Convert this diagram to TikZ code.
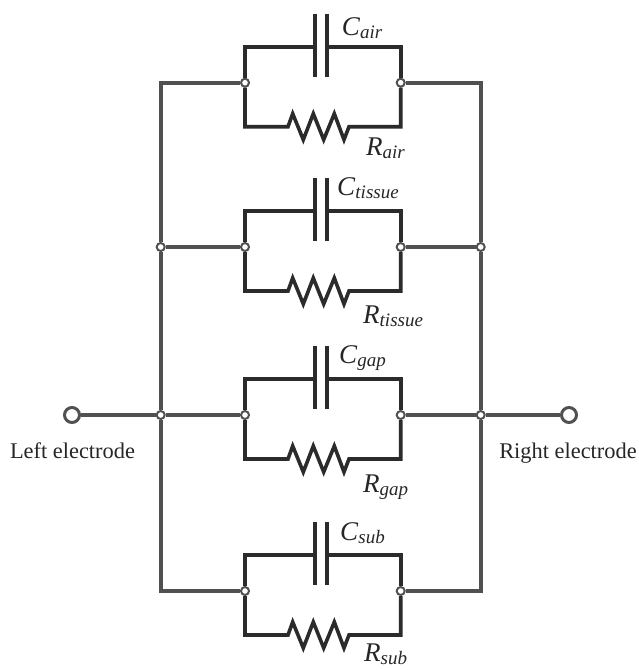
\documentclass[tikz,border=0pt]{standalone}
\usepackage{fontspec}
\setmainfont{Liberation Serif}
\definecolor{wire}{HTML}{2B2B2B}
\definecolor{bus}{HTML}{505050}
\newcommand{\elabel}[2]{\fontsize{27}{27}\selectfont\textit{#1}\raisebox{-3.5pt}{\fontsize{19}{19}\selectfont\textit{#2}}}
\tikzset{
    branchwire/.style={draw=wire, line width=3.6pt, line join=miter},
    buswire/.style={draw=bus, line width=3.6pt, line join=miter},
    junction/.style={circle, draw=bus, fill=white, line width=2pt, minimum size=8pt, inner sep=0pt},
    electrode/.style={circle, draw=bus, fill=white, line width=3pt, minimum size=15pt, inner sep=0pt},
    elabeltext/.style={anchor=base west, inner sep=0pt, text=black!85},
    sidetext/.style={anchor=base, inner sep=0pt, text=black!85, font=\fontsize{22.4}{22.4}\selectfont}
}
\begin{document}
\begin{tikzpicture}[x=1pt, y=-1pt]
    \useasboundingbox (0,0) rectangle (638,670);

    \foreach \i/\yy/\nm/\cx/\cy/\rx/\ry in {1/82.7/air/341.7/35/366/155,2/247/tissue/337/195/363/323,3/415/gap/339/363/363/492,4/591/sub/340/540/364/661}
    {
        \node[junction] (jl\i) at (245,\yy) {};
        \node[junction] (jr\i) at (400.7,\yy) {};
        % capacitor
        \coordinate (capl\i) at (314.7,\yy-36);
        \coordinate (capr\i) at (326.7,\yy-36);
        \draw[branchwire] (jl\i) |- (capl\i);
        \draw[branchwire] (jr\i) |- (capr\i);
        \draw[branchwire] (314.7,\yy-69) -- (314.7,\yy-6);
        \draw[branchwire] (326.7,\yy-69) -- (326.7,\yy-6);
        % resistor
        \coordinate (resl\i) at (288,\yy+44);
        \coordinate (resr\i) at (349,\yy+44);
        \draw[branchwire] (jl\i) |- (resl\i) -- (292.7,\yy+31) -- (303.3,\yy+57) -- (313.3,\yy+31) -- (323.7,\yy+57) -- (334.3,\yy+31) -- (344,\yy+57) -- (resr\i) -| (jr\i);
        \node[elabeltext] (cl\i) at (\cx,\cy) {\elabel{C}{\nm}};
        \node[elabeltext] (rl\i) at (\rx,\ry) {\elabel{R}{\nm}};
    }

    \node[junction] (busl2) at (160.7,247) {};
    \node[junction] (busl3) at (160.7,415) {};
    \node[junction] (busr2) at (480.7,247) {};
    \node[junction] (busr3) at (480.7,415) {};
    \coordinate (busl1) at (160.7,82.7);
    \coordinate (busl4) at (160.7,591);
    \coordinate (busr1) at (480.7,82.7);
    \coordinate (busr4) at (480.7,591);
    \node[electrode] (left) at (72,415) {};
    \node[electrode] (right) at (569,415) {};

    \draw[buswire] (jl1) -- (busl1) -- (busl2) -- (busl3) -- (busl4) -- (jl4);
    \draw[buswire] (jr1) -- (busr1) -- (busr2) -- (busr3) -- (busr4) -- (jr4);
    \draw[buswire] (busl2) -- (jl2);
    \draw[buswire] (busr2) -- (jr2);
    \draw[buswire] (left) -- (busl3) -- (jl3);
    \draw[buswire] (right) -- (busr3) -- (jr3);

    \node[sidetext] (lefttext) at (72.5,458) {Left electrode};
    \node[sidetext] (righttext) at (568,458) {Right electrode};
\end{tikzpicture}
\end{document}
